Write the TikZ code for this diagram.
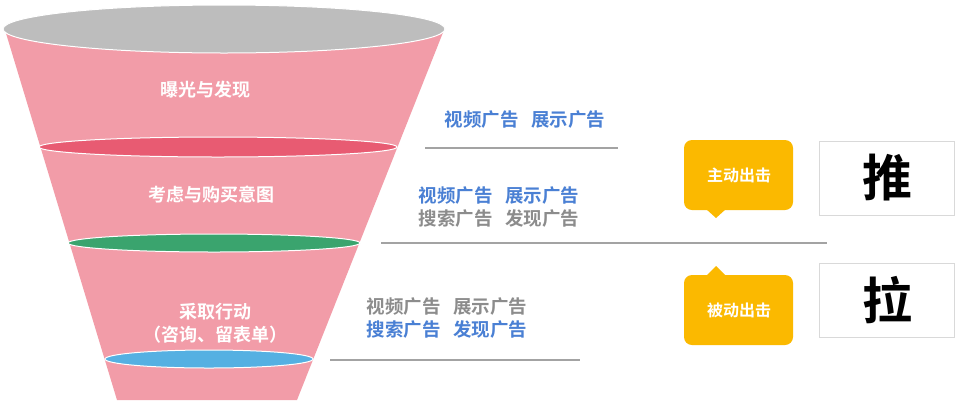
\documentclass[tikz,border=0pt]{standalone}
\usepackage{fontspec}
\newfontfamily\cjk{Noto Sans CJK SC}[BoldFont={* Bold}]
\definecolor{pinkf}{HTML}{F29CA8}
\definecolor{redE}{HTML}{E85B72}
\definecolor{greenE}{HTML}{3AA46E}
\definecolor{blueE}{HTML}{55B0E2}
\definecolor{greyE}{HTML}{BDBDBD}
\definecolor{bluet}{HTML}{4A80D4}
\definecolor{greyt}{HTML}{8C8C8C}
\definecolor{yel}{HTML}{FBB900}
\tikzset{
 ring/.style={draw=white,line width=1pt},
 ftext/.style={text=white,font=\cjk\bfseries\fontsize{18}{23}\selectfont,align=center},
 adtext/.style={font=\cjk\bfseries\fontsize{18.5}{23}\selectfont,align=left,inner sep=0},
 sep/.style={draw=greyt!80,line width=1.2pt},
 bub/.style={fill=yel,rounded corners=8pt},
 bubtext/.style={text=white,font=\cjk\bfseries\fontsize{16}{18}\selectfont},
 wordbox/.style={draw=gray!30,fill=white,minimum width=135,minimum height=74,font=\cjk\bfseries\fontsize{50}{52}\selectfont}
}
\begin{document}
\begin{tikzpicture}[x=1pt,y=-1pt]
\useasboundingbox[fill=white] (0,0) rectangle (957,400);
\fill[pinkf] (5,30) -- (117,400) -- (297,400) -- (444,30) -- cycle;
\fill[greyE,ring] (224,29) ellipse [x radius=221,y radius=24];
\fill[redE,ring] (218,147) ellipse [x radius=179,y radius=10];
\fill[greenE,ring] (214,243) ellipse [x radius=146,y radius=9];
\fill[blueE,ring] (209,359) ellipse [x radius=104,y radius=9];
\node[ftext] (t1) at (205,90) {曝光与发现};
\node[ftext] (t2) at (211,195) {考虑与购买意图};
\node[ftext] (t3) at (215,323) {采取行动\\（咨询、留表单）};
\node[adtext,text=bluet] (a1) at (525,120) {视频广告\hspace{0.7em}展示广告};
\node[adtext] (a2) at (499,207) {\textcolor{bluet}{视频广告\hspace{0.7em}展示广告}\\\textcolor{greyt}{搜索广告\hspace{0.7em}发现广告}};
\node[adtext] (a3) at (447,318) {\textcolor{greyt}{视频广告\hspace{0.7em}展示广告}\\\textcolor{bluet}{搜索广告\hspace{0.7em}发现广告}};
\coordinate (l1a) at (425,148); \coordinate (l1b) at (618,148);
\coordinate (l2a) at (381,243); \coordinate (l2b) at (827,243);
\coordinate (l3a) at (330,360); \coordinate (l3b) at (580,360);
\draw[sep] (l1a) -- (l1b); \draw[sep] (l2a) -- (l2b); \draw[sep] (l3a) -- (l3b);
\fill[bub] (684,140) rectangle (793,210);
\fill[yel] (706,209) -- (716,218) -- (726,209) -- cycle;
\node[bubtext] (b1) at (739,175) {主动出击};
\fill[bub] (684,275) rectangle (793,345);
\fill[yel] (706,276) -- (716,266) -- (726,276) -- cycle;
\node[bubtext] (b2) at (739,310) {被动出击};
\node[wordbox] (w1) at (887,178) {推};
\node[wordbox] (w2) at (887,300) {拉};
\end{tikzpicture}
\end{document}
